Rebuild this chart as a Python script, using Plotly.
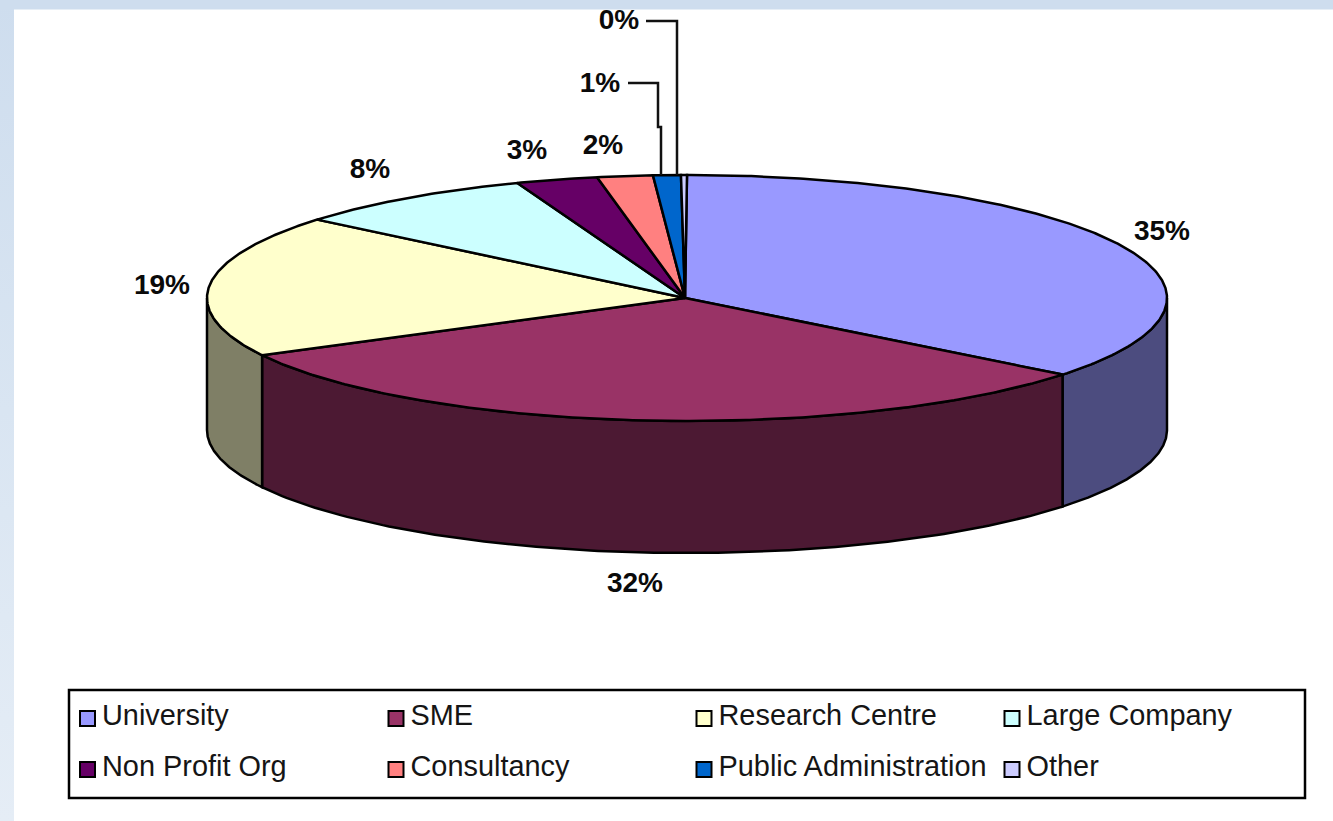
import numpy as np
import plotly.graph_objects as go

# ---- data ----
categories = ["University", "SME", "Research Centre", "Large Company",
              "Non Profit Org", "Consultancy", "Public Administration", "Other"]
values = [35.7, 31.6, 18.7, 8.25, 2.75, 1.87, 0.93, 0.2]
percent_labels = ["35%", "32%", "19%", "8%", "3%", "2%", "1%", "0%"]
top_colors = ["#9999FF", "#993366", "#FFFFCC", "#CCFFFF",
              "#660066", "#FF8080", "#0066CC", "#CCCCFF"]
side_colors = ["#4C4C7F", "#4C1933", "#7F7F66", "#667F7F",
               "#330033", "#7F4040", "#003366", "#66667F"]

# ---- layout of the drawing (pixel axes) ----
W, H = 1333, 821
CX, CY, RX, RY, DEPTH = 687, 298, 480, 123, 132
HUB_X, HUB_Y = 685, 298
label_xy = [(1162, 233), (635, 585), (162, 287), (370, 171),
            (527, 152), (603, 147), (600, 85), (619, 22)]
LEG_X = [87.5, 396, 704, 1012]
LEG_Y = [718.5, 769.5]
LEG_TEXT_DX = 14.5
LEG_TEXT_DY = -1
INK = "#0A0A0A"
EDGE = dict(color="#000000", width=2.5)

def ellipse(theta):
    """theta: clockwise from top, radians"""
    return CX + RX * np.sin(theta), CY - RY * np.cos(theta)

fig = go.Figure()

# page background: left strip with gradient
fig.add_trace(go.Scatter(
    x=[0, 14, 14, 0, 0], y=[0, 0, H, H, 0], mode="none", fill="toself",
    fillgradient=dict(type="vertical",
                      colorscale=[[0, "#E5EDF6"], [0.5, "#D9E5F2"], [1, "#CEDDEE"]]),
    hoverinfo="skip", showlegend=False))

total = sum(values)
edges = np.concatenate([[0], np.cumsum(values)]) / total * 2 * np.pi

# side walls (only the front half of the rim is visible)
for i, name in enumerate(categories):
    a = max(edges[i], np.pi / 2)
    b = min(edges[i + 1], 3 * np.pi / 2)
    if b <= a:
        continue
    t = np.linspace(a, b, 120)
    x, y = ellipse(t)
    fig.add_trace(go.Scatter(
        x=np.concatenate([x, x[::-1], x[:1]]),
        y=np.concatenate([y, y[::-1] + DEPTH, y[:1]]),
        mode="lines", fill="toself", fillcolor=side_colors[i],
        line=EDGE, name=name, hoverinfo="skip", showlegend=False))

# top faces
for i, name in enumerate(categories):
    t = np.linspace(edges[i], edges[i + 1], max(3, int(values[i] * 8)))
    x, y = ellipse(t)
    fig.add_trace(go.Scatter(
        x=np.concatenate([[HUB_X], x, [HUB_X]]),
        y=np.concatenate([[HUB_Y], y, [HUB_Y]]),
        mode="lines", fill="toself", fillcolor=top_colors[i],
        line=EDGE, name=name, hoverinfo="skip", showlegend=False))

# percentage labels
fig.add_trace(go.Scatter(
    x=[p[0] for p in label_xy], y=[p[1] for p in label_xy],
    mode="text", text=percent_labels,
    textposition="middle center",
    textfont=dict(family="Liberation Sans", size=28, color=INK, weight="bold"),
    hoverinfo="skip", showlegend=False))

# legend swatches and text
leg_x = [LEG_X[i % 4] for i in range(len(categories))]
leg_y = [LEG_Y[i // 4] for i in range(len(categories))]
fig.add_trace(go.Scatter(
    x=leg_x, y=leg_y, mode="markers",
    marker=dict(symbol="square", size=15, color=top_colors,
                line=dict(color="#000000", width=2)),
    hoverinfo="skip", showlegend=False))
fig.add_trace(go.Scatter(
    x=[v + LEG_TEXT_DX for v in leg_x], y=[v + LEG_TEXT_DY for v in leg_y],
    mode="text", text=categories, textposition="middle right",
    textfont=dict(family="Liberation Sans", size=28.9, color="#151515"),
    hoverinfo="skip", showlegend=False))

line = dict(color="#111111", width=2.5)
shapes = [
    dict(type="rect", x0=0, x1=W, y0=0, y1=9.5, fillcolor="#CEDDEE",
         line=dict(width=0), layer="above"),
    dict(type="path", path="M646,21 L677,21 L677,175", line=line, layer="above"),
    dict(type="path", path="M628,83 L658,83 L658,127 L661,127 L661,175",
         line=line, layer="above"),
    dict(type="rect", x0=69, x1=1305, y0=690, y1=798,
         line=dict(color="#000000", width=2.5), layer="below"),
]

fig.update_layout(
    width=W, height=H, margin=dict(l=0, r=0, t=0, b=0),
    paper_bgcolor="#FFFFFF", plot_bgcolor="#FFFFFF",
    showlegend=False, shapes=shapes,
    xaxis=dict(range=[0, W], visible=False, fixedrange=True),
    yaxis=dict(range=[H, 0], visible=False, fixedrange=True),
)

fig.write_html("out.html", config={"displayModeBar": False},
               post_script="document.body.style.margin='0';")
